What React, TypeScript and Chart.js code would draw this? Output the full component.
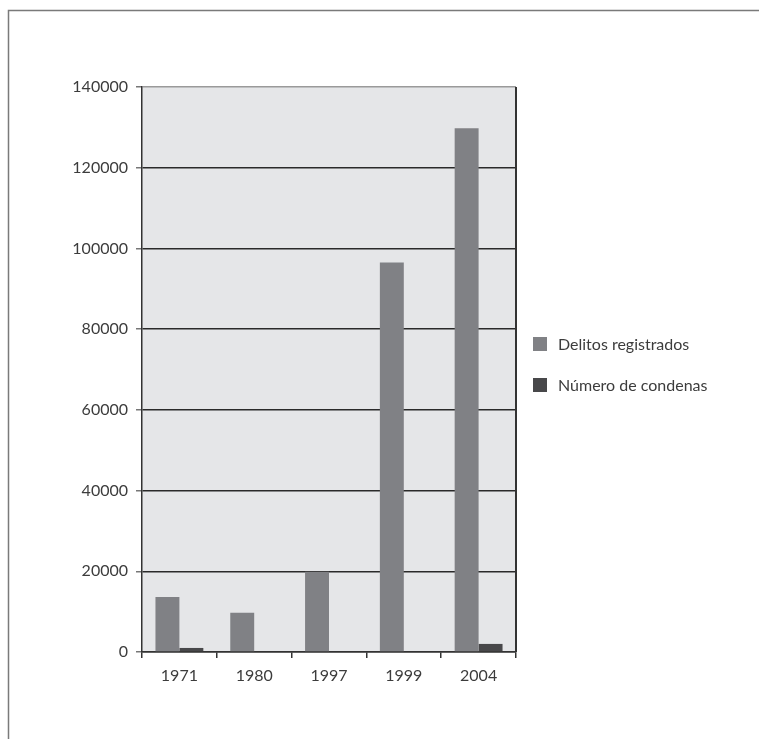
import React, { useEffect, useRef } from "react";
import { Chart, registerables } from "chart.js";

Chart.register(...registerables);

const years = ["1971", "1980", "1997", "1999", "2004"];
const delitosRegistrados = [13600, 9700, 19900, 96500, 129800];
const numeroCondenas = [1000, 0, 0, 0, 2000];
const seriesLabels = ["Delitos registrados", "Número de condenas"];
const seriesColors = ["#808185", "#48484a"];
const yMax = 140000;
const yStep = 20000;

const FONT = "Lato, 'Open Sans', sans-serif";
const TEXT = "#3c3c3c";

// Frame, plot background, right border and the side legend.
const decorations = {
  id: "decorations",
  beforeDraw(chart: any) {
    const { ctx, chartArea: a } = chart;
    ctx.save();
    ctx.fillStyle = "#e5e6e8";
    ctx.fillRect(a.left, a.top, a.right - a.left, a.bottom - a.top);
    ctx.strokeStyle = "#7a7a7a";
    ctx.lineWidth = 1.5;
    ctx.beginPath();
    ctx.moveTo(8.5, chart.height);
    ctx.lineTo(8.5, 10.5);
    ctx.lineTo(chart.width, 10.5);
    ctx.stroke();
    ctx.restore();
  },
  afterDraw(chart: any) {
    const { ctx, chartArea: a } = chart;
    ctx.save();
    ctx.strokeStyle = "#333333";
    ctx.lineWidth = 2;
    ctx.beginPath();
    ctx.moveTo(a.right, a.top);
    ctx.lineTo(a.right, a.bottom);
    ctx.stroke();

    const x0 = a.right + 17;
    const y0 = 337;
    const gap = 41;
    ctx.font = `16px ${FONT}`;
    ctx.textBaseline = "middle";
    ctx.textAlign = "left";
    chart.data.datasets.forEach((ds: any, i: number) => {
      const y = y0 + i * gap;
      ctx.fillStyle = ds.backgroundColor;
      ctx.fillRect(x0, y, 14, 14);
      ctx.fillStyle = TEXT;
      ctx.fillText(ds.label, x0 + 25, y + 8);
    });
    ctx.restore();
  },
};

export default function App() {
  const ref = useRef<HTMLCanvasElement | null>(null);

  useEffect(() => {
    if (!ref.current) return;
    const chart = new Chart(ref.current, {
      type: "bar",
      data: {
        labels: years,
        datasets: [
          {
            label: seriesLabels[0],
            data: delitosRegistrados,
            backgroundColor: seriesColors[0],
            borderWidth: 0,
          },
          {
            label: seriesLabels[1],
            data: numeroCondenas,
            backgroundColor: seriesColors[1],
            borderWidth: 0,
          },
        ],
      },
      options: {
        animation: false,
        responsive: false,
        maintainAspectRatio: false,
        datasets: {
          bar: { categoryPercentage: 0.64, barPercentage: 1.0 },
        },
        layout: { padding: { left: 0, top: 87, right: 243, bottom: 0 } },
        plugins: {
          legend: { display: false },
          tooltip: { enabled: false },
        },
        scales: {
          x: {
            offset: true,
            afterFit: (s: any) => {
              s.height = 87;
            },
            grid: {
              offset: true,
              drawOnChartArea: false,
              drawTicks: true,
              tickLength: 6,
              tickColor: "#333333",
              lineWidth: 1.5,
            },
            border: { display: true, color: "#333333", width: 1.5 },
            ticks: {
              color: TEXT,
              font: { family: FONT, size: 16 },
              padding: 8,
              maxRotation: 0,
            },
          },
          y: {
            min: 0,
            max: yMax,
            afterFit: (s: any) => {
              s.width = 142;
            },
            grid: {
              color: (c: any) => (c.tick && c.tick.value === yMax ? "#9a9a9a" : "#2a2a2a"),
              lineWidth: 1.5,
              drawTicks: true,
              tickLength: 6,
              tickColor: "#777777",
            },
            border: { display: true, color: "#333333", width: 1.5 },
            ticks: {
              stepSize: yStep,
              color: TEXT,
              font: { family: FONT, size: 16 },
              padding: 8,
              callback: (v: any) => String(v),
            },
          },
        },
      },
      plugins: [decorations],
    });
    return () => chart.destroy();
  }, []);

  return (
    <div style={{ position: "absolute", left: 0, top: 0, width: 759, height: 739, background: "#fff" }}>
      <canvas ref={ref} width={759} height={739} style={{ display: "block", width: 759, height: 739 }} />
    </div>
  );
}
